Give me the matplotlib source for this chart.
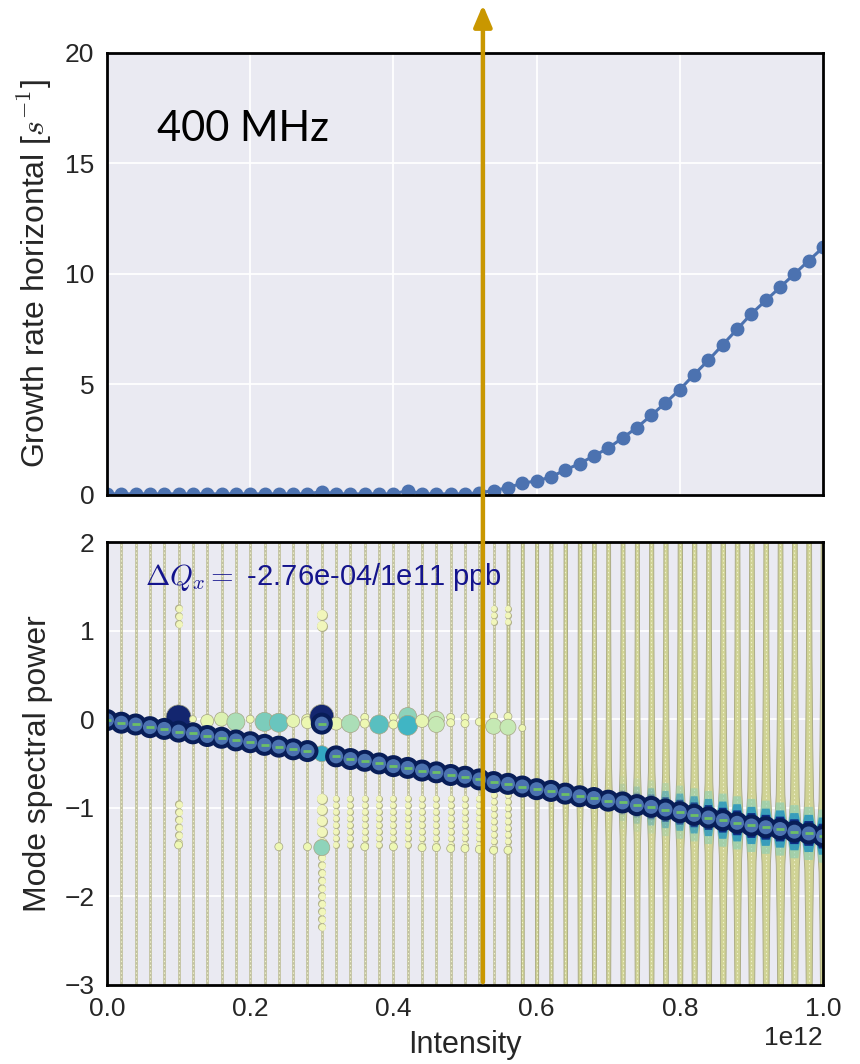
import numpy as np
import matplotlib
matplotlib.use("Agg")
import matplotlib.pyplot as plt
from matplotlib import transforms
from matplotlib.patches import FancyArrowPatch

# intensity in units of 1e12
intensity = [0.00, 0.02, 0.04, 0.06, 0.08, 0.10, 0.12, 0.14, 0.16, 0.18,
             0.20, 0.22, 0.24, 0.26, 0.28, 0.30, 0.32, 0.34, 0.36, 0.38,
             0.40, 0.42, 0.44, 0.46, 0.48, 0.50, 0.52, 0.54, 0.56, 0.58,
             0.60, 0.62, 0.64, 0.66, 0.68, 0.70, 0.72, 0.74, 0.76, 0.78,
             0.80, 0.82, 0.84, 0.86, 0.88, 0.90, 0.92, 0.94, 0.96, 0.98, 1.00]

growth_rate = [0.05, 0.05, 0.05, 0.05, 0.05, 0.05, 0.05, 0.05, 0.05, 0.05,
               0.05, 0.05, 0.05, 0.05, 0.05, 0.15, 0.05, 0.05, 0.05, 0.05,
               0.05, 0.20, 0.05, 0.05, 0.05, 0.05, 0.10, 0.20, 0.33, 0.54,
               0.63, 0.82, 1.13, 1.42, 1.77, 2.12, 2.58, 3.05, 3.60, 4.17,
               4.77, 5.45, 6.10, 6.80, 7.50, 8.20, 8.80, 9.40, 10.0, 10.6, 11.2]

# tracked mode (dominant spectral line)
mode_tune = [-0.01, -0.04, -0.06, -0.09, -0.11, -0.14, -0.16, -0.19, -0.21, -0.24,
             -0.26, -0.29, -0.31, -0.34, -0.36, -0.05, -0.42, -0.45, -0.47, -0.50,
             -0.53, -0.55, -0.58, -0.60, -0.63, -0.65, -0.68, -0.71, -0.73, -0.76,
             -0.79, -0.81, -0.84, -0.87, -0.89, -0.92, -0.94, -0.97, -0.99, -1.02,
             -1.05, -1.08, -1.11, -1.14, -1.17, -1.20, -1.22, -1.24, -1.27, -1.29, -1.32]

# full width of each spectrum column at its peak (units of 1e12)
spectral_width = [0.0040] * 28 + [
    0.0046, 0.0052, 0.0060, 0.0070, 0.0082, 0.0092, 0.0102, 0.0110, 0.0118, 0.0126,
    0.0134, 0.0142, 0.0150, 0.0157, 0.0163, 0.0168, 0.0173, 0.0178, 0.0182, 0.0186,
    0.0189, 0.0192, 0.0195]

# shape of a spectrum column around its peak
profile_dy = [-4.5, -2.0, -1.0, -0.4, -0.15, 0.0, 0.15, 0.4, 1.0, 2.0, 4.5]
profile_rel = [0.12, 0.26, 0.40, 0.55, 0.78, 1.0, 0.78, 0.55, 0.40, 0.26, 0.12]

# secondary spectral lines: position, diameter (px), colour level
side_x = [0.10, 0.12, 0.14, 0.16, 0.18, 0.20, 0.22, 0.24, 0.26, 0.28, 0.28,
          0.30, 0.30, 0.30, 0.32, 0.34, 0.36, 0.36, 0.38, 0.40, 0.40, 0.42, 0.42,
          0.44, 0.46, 0.46, 0.48, 0.48, 0.50, 0.50, 0.52, 0.54, 0.54, 0.56, 0.56, 0.58,
          0.24, 0.28, 0.36, 0.40, 0.44, 0.46, 0.48, 0.50, 0.52, 0.54, 0.56, 0.10]
side_y = [0.02, 0.00, -0.02, 0.00, -0.03, 0.00, -0.03, -0.04, -0.02, -0.01, -0.04,
          0.03, -0.39, -1.45, -0.05, -0.05, 0.02, -0.05, -0.06, 0.02, -0.06, 0.03, -0.07,
          -0.02, 0.00, -0.06, 0.02, -0.04, 0.02, -0.05, -0.03, 0.03, -0.08, 0.03, -0.09, -0.10,
          -1.44, -1.44, -1.44, -1.44, -1.45, -1.45, -1.46, -1.46, -1.47, -1.48, -1.48, -1.42]
side_px = [25, 7, 13, 14, 18, 8, 19, 19, 13, 12, 12,
           24, 16, 16, 13, 18, 8, 9, 19, 8, 9, 18, 20,
           13, 16, 16, 8, 8, 8, 8, 8, 8, 16, 8, 16, 7,
           8, 8, 8, 8, 8, 8, 8, 8, 8, 8, 8, 8]
side_level = [0.95, 0.12, 0.15, 0.18, 0.30, 0.12, 0.38, 0.42, 0.15, 0.13, 0.13,
              0.95, 0.55, 0.35, 0.15, 0.30, 0.12, 0.12, 0.45, 0.12, 0.12, 0.35, 0.50,
              0.15, 0.25, 0.25, 0.12, 0.12, 0.12, 0.12, 0.12, 0.12, 0.25, 0.12, 0.25, 0.12,
              0.12, 0.12, 0.12, 0.12, 0.12, 0.12, 0.12, 0.12, 0.12, 0.12, 0.12, 0.12]

# bead chains of stronger spectral points along some columns
bead_x = [0.10, 0.10, 0.30, 0.30, 0.30, 0.54, 0.56,
          0.32, 0.34, 0.36, 0.38, 0.40, 0.42, 0.44, 0.46, 0.48, 0.50, 0.52, 0.54, 0.56]
bead_lo = [1.08, -1.40, 1.05, -1.40, -2.35, 1.10, 1.10,
           -1.42, -1.42, -1.42, -1.42, -1.42, -1.42, -1.42, -1.42, -1.42, -1.42, -1.42, -1.45, -1.45]
bead_hi = [1.32, -0.88, 1.30, -0.85, -1.55, 1.28, 1.28,
           -0.85, -0.85, -0.85, -0.85, -0.85, -0.85, -0.85, -0.85, -0.85, -0.85, -0.85, -0.85, -0.85]
bead_px = [7, 7, 10, 10, 7, 6, 6,
           6, 6, 6, 6, 6, 6, 6, 6, 6, 6, 6, 6, 6]

arrow_at = 0.525  # marked intensity (1e12)

plt.rcParams["font.family"] = ["Liberation Sans", "DejaVu Sans"]
plt.rcParams["mathtext.fontset"] = "cm"
plt.rcParams["lines.scale_dashes"] = False
plt.rcParams["axes.facecolor"] = "#EAEAF2"
plt.rcParams["text.color"] = "#262626"
plt.rcParams["axes.labelcolor"] = "#262626"
plt.rcParams["xtick.color"] = "#262626"
plt.rcParams["ytick.color"] = "#262626"

x = np.array(intensity) * 1e12
cmap = plt.get_cmap("YlGnBu")
px2pt = 0.72

fig = plt.figure(figsize=(8.6, 10.64), dpi=100)
ax1 = fig.add_axes([0.1244, 0.5348, 0.8326, 0.4154])
ax2 = fig.add_axes([0.1244, 0.0743, 0.8326, 0.4163])

for ax in (ax1, ax2):
    ax.set_xlim(0, 1e12)
    ax.set_axisbelow(True)
    ax.grid(True, color="white", lw=1.3)
    for s in ax.spines.values():
        s.set_color("black")
        s.set_linewidth(2.0)
        s.set_zorder(10)
    ax.tick_params(length=0, labelsize=19, pad=9)

# top panel: growth rate
ax1.plot(x, growth_rate, "-o", color="#4c72b0", lw=2.2, ms=9, zorder=3)
ax1.set_ylim(0, 20)
ax1.set_yticks([0, 5, 10, 15, 20])
ax1.set_xticks([0, 0.2e12, 0.4e12, 0.6e12, 0.8e12, 1e12])
ax1.tick_params(labelbottom=False)
ax1.set_ylabel(r"Growth rate horizontal [$s^{-1}$]", fontsize=23, labelpad=8)
ax1.text(0.07, 0.80, "400 MHz", transform=ax1.transAxes, fontsize=30,
         family=["Lato", "DejaVu Sans"], color="black", va="baseline", zorder=5)

# bottom panel: spectra
ax2.set_ylim(-3, 2)
ax2.set_yticks([-3, -2, -1, 0, 1, 2])
ax2.set_xticks([0, 0.2e12, 0.4e12, 0.6e12, 0.8e12, 1e12])
ax2.xaxis.grid(False)

base_hw = 0.0018e12
for xi, yi, w in zip(x, mode_tune, spectral_width):
    ax2.plot([xi, xi], [-3, 2], color="#c2c2a0", lw=2.0, zorder=1, solid_capstyle="butt")
    if w > 0.0040:
        hw = w / 2 * 1e12
        ys = yi + np.array(profile_dy)
        half = base_hw + (hw - base_hw) * np.array(profile_rel)
        ax2.fill_betweenx(ys, xi - half, xi + half, facecolor="#d0d395",
                          edgecolor="#acac86", lw=0.7, zorder=1.5)
        strength = min(max((w - 0.0110) / (0.0170 - 0.0110), 0.0), 1.0)
        if strength > 0:
            for dy, col, a in ((0.30, "#7fcdbb", 0.55), (0.21, "#1d91c0", 0.8), (0.14, "#0c2c84", 1.0)):
                ax2.fill_betweenx([yi - dy, yi - dy * 0.4, yi, yi + dy * 0.4, yi + dy],
                                  [xi - hw * 0.6, xi - hw * 0.9, xi - hw, xi - hw * 0.9, xi - hw * 0.6],
                                  [xi + hw * 0.6, xi + hw * 0.9, xi + hw, xi + hw * 0.9, xi + hw * 0.6],
                                  facecolor=col, edgecolor="none", alpha=a * strength, zorder=2)
    ax2.plot([xi, xi], [-3, 2], color="#f0f2cc", lw=0.8, ls=(0, (1.0, 1.8)), zorder=1.8)

for bx, lo, hi, bp in zip(bead_x, bead_lo, bead_hi, bead_px):
    d = bp * px2pt
    ax2.plot([bx * 1e12] * 2, [lo, hi], color="#b0b08a", lw=d + 0.8,
             ls=(0, (0.01, d * 1.1)), dash_capstyle="round", zorder=2.4)
    ax2.plot([bx * 1e12] * 2, [lo, hi], color="#f1f6bb", lw=d,
             ls=(0, (0.01, d * 1.1)), dash_capstyle="round", zorder=2.5)

ax2.scatter(np.array(side_x) * 1e12, side_y, s=(np.array(side_px) * px2pt) ** 2,
            c=side_level, cmap=cmap, vmin=0, vmax=1, edgecolors="#a5a585",
            linewidths=0.5, zorder=3)

ax2.scatter(x, mode_tune, s=(22 * px2pt) ** 2, color="#081d58", edgecolors="none", zorder=4)
ax2.scatter(x, mode_tune, s=(14 * px2pt) ** 2, color="#4c72b0", edgecolors="none", zorder=5)
ax2.plot(x, mode_tune, ls="none", marker="_", ms=5.5, mew=2.0, color="#6cbf66", zorder=6)

ax2.text(0.053, 0.903, r"$\Delta Q_x =$ -2.76e-04/1e11 ppb", transform=ax2.transAxes,
         fontsize=21, color="#14148c", va="baseline", zorder=7)

ax2.set_ylabel("Mode spectral power", fontsize=23, labelpad=8)
ax2.set_xlabel("Intensity", fontsize=22, labelpad=6)
ax2.xaxis.get_offset_text().set_fontsize(19)

# marker arrow across both panels
trans = transforms.blended_transform_factory(ax2.transData, fig.transFigure)
arrow = FancyArrowPatch((arrow_at * 1e12, 0.0743), (arrow_at * 1e12, 0.998),
                        transform=trans, arrowstyle="-|>,head_length=13,head_width=5.5",
                        mutation_scale=1, color="#c99700", lw=3.2, zorder=20)
fig.add_artist(arrow)

fig.savefig("out.png", dpi=100)
